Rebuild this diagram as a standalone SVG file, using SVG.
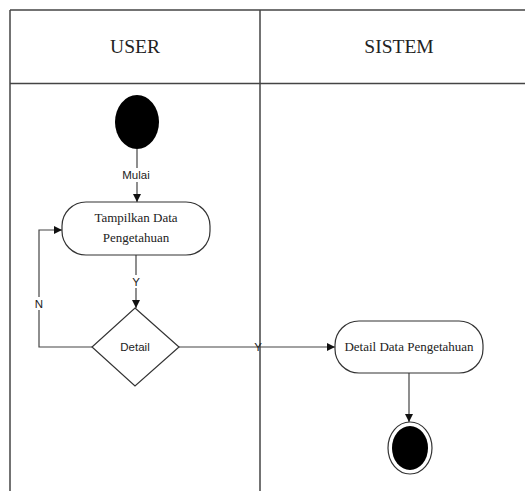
<svg xmlns="http://www.w3.org/2000/svg" width="525" height="491" viewBox="0 0 525 491">
  <style>
    .lane { stroke: #444; stroke-width: 1.5; fill: none; }
    .edge { stroke: #444; stroke-width: 1.2; fill: none; }
    .act { fill: #fff; stroke: #333; stroke-width: 1.2; }
    .hdr { font-family: "Liberation Serif", serif; font-size: 19.5px; fill: #222; text-anchor: middle; }
    .serif { font-family: "Liberation Serif", serif; font-size: 13px; fill: #222; text-anchor: middle; }
    .sans { font-family: "Liberation Sans", Arial, sans-serif; font-size: 11.5px; fill: #222; text-anchor: middle; }
  </style>
  <defs>
    <marker id="arrow" viewBox="0 0 10 10" refX="10" refY="5" markerWidth="8" markerHeight="8" markerUnits="userSpaceOnUse" orient="auto">
      <path d="M0,0 L10,5 L0,10 Z" fill="#111"/>
    </marker>
  </defs>
  <rect width="525" height="491" fill="#fff"/>

  <!-- swimlanes -->
  <g id="lanes">
    <line class="lane" x1="10" y1="10" x2="525" y2="10"/>
    <line class="lane" x1="10" y1="83.5" x2="525" y2="83.5"/>
    <line class="lane" x1="10" y1="10" x2="10" y2="491"/>
    <line class="lane" x1="260" y1="10" x2="260" y2="491"/>
    <text class="hdr" x="135" y="53">USER</text>
    <text class="hdr" x="399" y="53">SISTEM</text>
  </g>

  <!-- connectors -->
  <g id="connectors">
    <line class="edge" x1="137" y1="149" x2="137" y2="202" marker-end="url(#arrow)"/>
    <line class="edge" x1="136" y1="255" x2="136" y2="308" marker-end="url(#arrow)"/>
    <polyline class="edge" points="92,347 39,347 39,230 62,230" marker-end="url(#arrow)"/>
    <line class="edge" x1="179" y1="347" x2="335" y2="347" marker-end="url(#arrow)"/>
    <line class="edge" x1="409" y1="373" x2="409" y2="422" marker-end="url(#arrow)"/>
    <rect x="121" y="168" width="31" height="14" fill="#fff"/>
    <text class="sans" x="136" y="179">Mulai</text>
    <rect x="130" y="275" width="12" height="13" fill="#fff"/>
    <text class="sans" x="136" y="286">Y</text>
    <rect x="33" y="297" width="12" height="13" fill="#fff"/>
    <text class="sans" x="39" y="308">N</text>
    <text class="sans" x="258" y="351">Y</text>
  </g>

  <g id="start">
    <ellipse cx="137" cy="122" rx="22" ry="27" fill="#000"/>
  </g>

  <g id="tampilkan">
    <rect class="act" x="62" y="202" width="148" height="53" rx="24" ry="24"/>
    <text class="serif" x="136" y="222">Tampilkan Data</text>
    <text class="serif" x="136" y="242">Pengetahuan</text>
  </g>

  <g id="detail-decision">
    <polygon class="act" points="135,308 179,347 135,386 92,347"/>
    <text class="sans" x="135" y="351">Detail</text>
  </g>

  <g id="detail-data">
    <rect class="act" x="335" y="321" width="148" height="52" rx="24" ry="24"/>
    <text class="serif" x="409" y="351">Detail Data Pengetahuan</text>
  </g>

  <g id="end">
    <ellipse cx="410" cy="448" rx="22" ry="26" fill="#fff" stroke="#333" stroke-width="1.2"/>
    <ellipse cx="410" cy="448" rx="18" ry="22" fill="#000"/>
  </g>
</svg>
